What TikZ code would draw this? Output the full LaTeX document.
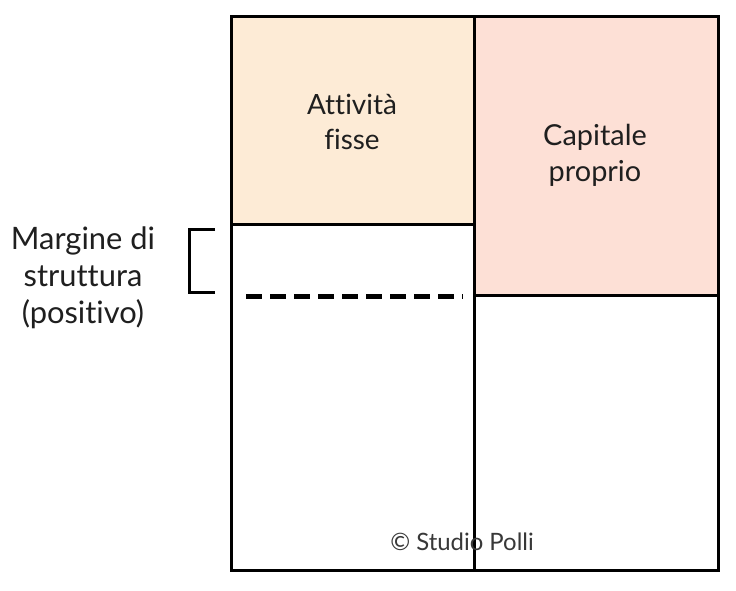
\documentclass[tikz,border=0pt]{standalone}
\usepackage{fontspec}
\setmainfont{Lato}[Ligatures=NoCommon]
\begin{document}
\begin{tikzpicture}[x=1bp,y=-1bp,
  box/.style={draw=black,line width=3bp},
  lbl/.style={font=\fontsize{28}{35}\selectfont,align=center,text=black!88},
  small/.style={font=\fontsize{24}{28}\selectfont,text=black!78}]
\useasboundingbox (0,0) rectangle (736,591);
\fill[white] (0,0) rectangle (736,591);
% filled areas
\fill[fill={rgb,255:red,253;green,235;blue,214}] (231,17) rectangle (474,224);
\fill[fill={rgb,255:red,253;green,224;blue,214}] (474,17) rectangle (718,295);
% lines
\draw[box] (231,224) -- (474,224);
\draw[box] (474,295) -- (718,295);
\draw[box] (474,17) -- (474,570);
\draw[box] (231,17) rectangle (718,570);
% dashed
\coordinate (d1) at (246,296);
\coordinate (d2) at (463,296);
\draw[line width=5bp,dash pattern=on 16bp off 8bp] (d1) -- (d2);
% bracket
\coordinate (b1) at (215,229);
\coordinate (b2) at (215,292);
\draw[line width=3bp] (b1) -- (189,229) -- (189,292) -- (b2);
% texts
\node[lbl] (att) at (352,122) {Attività\\fisse};
\node[lbl,font=\fontsize{29}{36}\selectfont] (cap) at (595,155) {Capitale\\proprio};
\node[lbl,font=\fontsize{31}{37}\selectfont] (marg) at (83,278) {Margine di\\struttura\\(positivo)};
\node[small] (copy) at (462,542) {© Studio Polli};
\end{tikzpicture}
\end{document}
